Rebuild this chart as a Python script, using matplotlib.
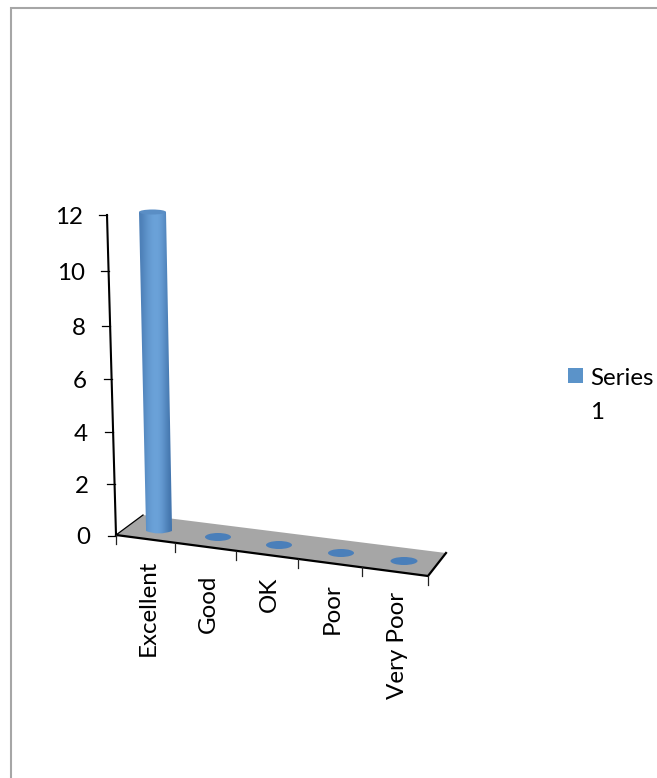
import numpy as np
import matplotlib
matplotlib.use('Agg')
import matplotlib.pyplot as plt
from matplotlib.patches import Polygon, Ellipse, Rectangle, PathPatch
from matplotlib.path import Path

categories = ['Excellent', 'Good', 'OK', 'Poor', 'Very Poor']
values = [12, 0, 0, 0, 0]
y_ticks = [0, 2, 4, 6, 8, 10, 12]
series_lines = ['Series', '1']

plt.rcParams['font.family'] = ['Lato', 'DejaVu Sans']

W, H = 657, 778
fig = plt.figure(figsize=(W / 100, H / 100), dpi=100)
ax = fig.add_axes([0, 0, 1, 1])
ax.set_xlim(0, W)
ax.set_ylim(H, 0)
ax.axis('off')

# outer frame
ax.plot([11, 11, 657], [778, 8, 8], color='#a6a6a6', lw=1.5, solid_joinstyle='miter')

# projected chart box, in pixels
floor = [(116, 535), (143, 515), (446, 553), (428, 576)]
tick_px = [116, 175, 236, 298, 362, 428]
y_tick_px = [536, 484, 432, 379, 326, 271, 215]
y_label_right = [90, 89, 88, 87, 86, 85, 83]
label_x = [148, 208, 269, 332, 397]
label_top = [560, 575, 577, 583, 592]


def front_y(x):
    return 535 + (x - 116) * (576 - 535) / (428 - 116)


def to_y(v):
    return np.interp(v, y_ticks, y_tick_px)


def axis_x(v):
    return 116 + (107 - 116) * (to_y(v) - 535) / (215 - 535)


ax.add_patch(Polygon(floor, closed=True, fc='#a6a6a6', ec='none', zorder=1))
ax.plot([116, 143], [535, 515], color='black', lw=0.9, zorder=2)
ax.plot([116, 428, 446], [535, 576, 553], color='black', lw=1.6, zorder=2)
ax.plot([107, 116], [215, 535], color='black', lw=1.5, zorder=2)

# value axis ticks and labels
for v, lab_r in zip(y_ticks, y_label_right):
    py = to_y(v)
    px = axis_x(v)
    ax.plot([px - 8, px], [py, py], color='black', lw=0.9, zorder=2)
    ax.text(lab_r, py + 2, str(v), ha='right', va='center', fontsize=17.4, color='black')

# category ticks and labels
for px in tick_px:
    py = front_y(px)
    ax.plot([px, px], [py, py + 9], color='#222222', lw=0.9, zorder=2)

for name, lx, ly in zip(categories, label_x, label_top):
    ax.text(lx, ly, name, rotation=90, ha='center', va='top', fontsize=17.4, color='black')

# cylinders, a flat value only leaves the base disc
base_cx = [159, 218, 279, 341, 404]
base_cy = [527, 537, 545, 553, 561]
base_w = [26, 26, 26, 26, 27]
gradient = np.array([[0.25, 0.45, 0.65, 0.78, 0.85, 0.80, 0.62, 0.35, 0.10]])
cmap = matplotlib.colors.LinearSegmentedColormap.from_list('cyl', ['#3f70a8', '#6ca3da'])
for i, v in enumerate(values):
    if v == 0:
        ax.add_patch(Ellipse((base_cx[i], base_cy[i]), base_w[i], 8, fc='#4a7fba', ec='none', zorder=3))
        continue
    top_y = to_y(v) - 3
    top_cx = base_cx[i] - 6.5
    hw0, hw1 = base_w[i] / 2, 13.5
    verts = [(top_cx - hw1, top_y), (base_cx[i] - hw0, base_cy[i]), (base_cx[i] - hw0, base_cy[i] + 4),
             (base_cx[i], base_cy[i] + 9), (base_cx[i] + hw0, base_cy[i] + 4), (base_cx[i] + hw0, base_cy[i]),
             (top_cx + hw1, top_y), (top_cx + hw1, top_y), (top_cx - hw1, top_y)]
    codes = [Path.MOVETO, Path.LINETO, Path.LINETO, Path.CURVE3, Path.CURVE3, Path.LINETO,
             Path.LINETO, Path.LINETO, Path.CLOSEPOLY]
    clip = PathPatch(Path(verts, codes), fc='none', ec='none', transform=ax.transData)
    ax.add_patch(clip)
    im = ax.imshow(gradient, extent=(top_cx - hw1, base_cx[i] + hw0, base_cy[i] + 7, top_y - 3),
                   cmap=cmap, vmin=0, vmax=0.85, aspect='auto', interpolation='bicubic', zorder=3)
    im.set_clip_path(clip)
    ax.add_patch(Ellipse((top_cx, top_y), 27, 5, fc='#5a8ec5', ec='none', zorder=4))
ax.set_xlim(0, W)
ax.set_ylim(H, 0)

# legend
ax.add_patch(Rectangle((568, 368), 15, 15, fc='#5b93c9', ec='none'))
ax.text(590, 378, series_lines[0], ha='left', va='center', fontsize=17.4, color='black')
ax.text(590, 412, series_lines[1], ha='left', va='center', fontsize=17.4, color='black')

fig.savefig('out.png', dpi=100)
